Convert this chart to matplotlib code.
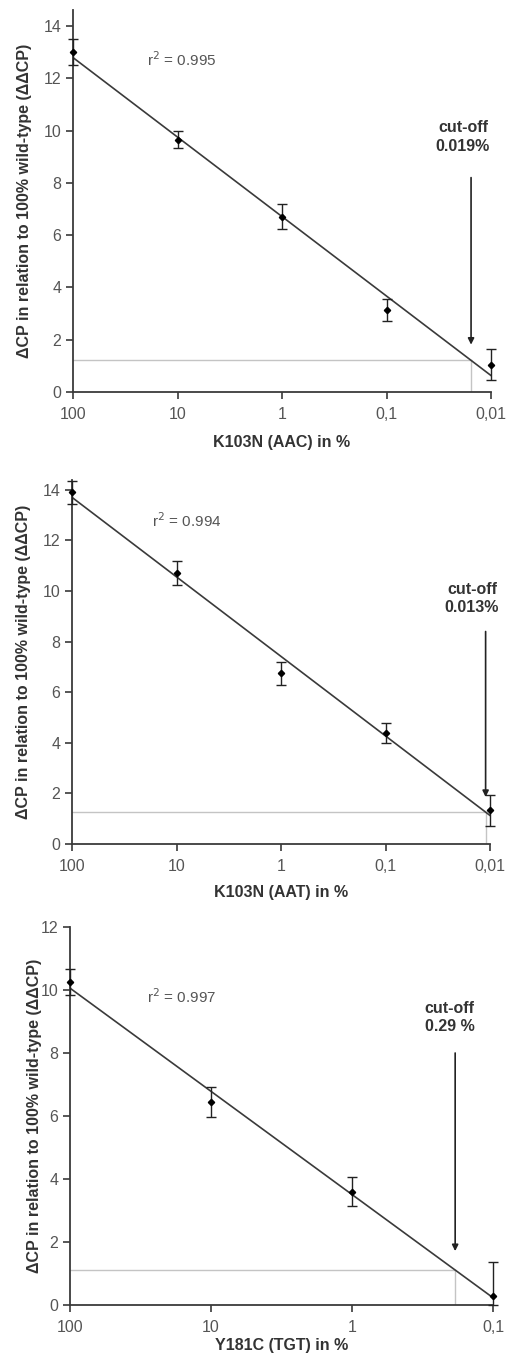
import numpy as np
import matplotlib
matplotlib.use('Agg')
import matplotlib.pyplot as plt

plt.rcParams['font.family'] = ['Liberation Sans', 'DejaVu Sans']

# ---- data ----
conc_k103n = [100, 10, 1, 0.1, 0.01]
conc_y181c = [100, 10, 1, 0.1]

ddcp_aac = [13.0, 9.65, 6.7, 3.15, 1.05]
err_aac = [0.5, 0.32, 0.48, 0.42, 0.6]

ddcp_aat = [13.9, 10.7, 6.75, 4.4, 1.33]
err_aat = [0.46, 0.47, 0.46, 0.4, 0.62]

ddcp_tgt = [10.25, 6.45, 3.6, 0.28]
err_tgt = [0.42, 0.47, 0.45, 1.08]

thresh_aac = 1.21
thresh_aat = 1.26
thresh_tgt = 1.11

r2_labels = ['r$^2$ = 0.995', 'r$^2$ = 0.994', 'r$^2$ = 0.997']
cutoff_labels = ['cut-off\n0.019%', 'cut-off\n0.013%', 'cut-off\n0.29 %']
xlabels = ['K103N (AAC) in %', 'K103N (AAT) in %', 'Y181C (TGT) in %']
tick_text_k103n = ['100', '10', '1', '0,1', '0,01']
tick_text_y181c = ['100', '10', '1', '0,1']
ylabel = '\u0394CP in relation to 100% wild-type (\u0394\u0394CP)'

W, H = 507, 1358
DARK = '#3a3a3a'
GRAY = '#555555'
FS = 11.5


def panel(fig, rect, conc, vals, errs, thresh, ticktext, xlab, r2, cut,
			ymax, ytop, r2pos, cutpos, ylab_x, xpad):
	ax = fig.add_axes(rect)
	x = np.array(conc, dtype=float)
	y = np.array(vals)
	e = np.array(errs)

	# linear fit on log10 of concentration
	lx = np.log10(x)
	slope, icpt = np.polyfit(lx, y, 1)
	xfit = np.array([x.max(), x.min()])
	ax.plot(xfit, slope * np.log10(xfit) + icpt, color=DARK, lw=1.2, zorder=2)

	# cut-off where fit meets the threshold
	xcut = 10 ** ((thresh - icpt) / slope)
	ax.plot([x.max(), xcut], [thresh, thresh], color='#c4c4c4', lw=1.0, zorder=1)
	ax.plot([xcut, xcut], [0, thresh], color='#c4c4c4', lw=1.0, zorder=1)

	# error bars truncated at zero
	lower = np.minimum(e, y)
	ax.errorbar(x, y, yerr=[lower, e], fmt='D', ms=3.2, color='black',
				ecolor='#222222', elinewidth=1.0, capsize=3.5, capthick=1.0,
				clip_on=False, zorder=3)

	ax.annotate('', xy=(xcut, thresh + 0.6), xytext=(xcut, ytop),
				arrowprops=dict(arrowstyle='-|>', color='#222222', lw=1.2,
								mutation_scale=9, shrinkA=0, shrinkB=0))
	ax.text(cutpos[0], cutpos[1], cut, transform=ax.transAxes, ha='center',
			va='center', fontsize=FS, fontweight='bold', color='#333333',
			linespacing=1.3)
	ax.text(r2pos[0], r2pos[1], r2, transform=ax.transAxes, ha='left',
			va='center', fontsize=11, color='#555555')

	ax.set_xscale('log')
	ax.set_xlim(x.max(), x.min())
	ax.set_ylim(0, ymax)
	ax.set_xticks(x)
	ax.set_xticklabels(ticktext)
	ax.minorticks_off()
	ax.set_yticks(np.arange(0, int(ymax) + 1, 2))

	for s in ['top', 'right']:
		ax.spines[s].set_visible(False)
	for s in ['left', 'bottom']:
		ax.spines[s].set_color(DARK)
		ax.spines[s].set_linewidth(1.3)
	ax.tick_params(axis='both', colors=DARK, labelcolor=GRAY, labelsize=FS,
				   width=1.2, length=5, direction='out')
	ax.tick_params(axis='x', pad=6)

	ax.set_xlabel(xlab, fontsize=FS, fontweight='bold', color='#333333',
				  labelpad=xpad)
	ax.set_ylabel(ylabel, fontsize=FS, fontweight='bold', color='#333333')
	ax.yaxis.set_label_coords(ylab_x, 0.5)
	return ax


fig = plt.figure(figsize=(W / 100, H / 100), dpi=100)

panel(fig, [73 / W, 1 - 392 / H, 418 / W, 382 / H], conc_k103n, ddcp_aac,
	  err_aac, thresh_aac, tick_text_k103n, xlabels[0], r2_labels[0],
	  cutoff_labels[0], 14.61, 8.2, (0.177, 0.869), (0.933, 0.668), -0.097, 9)

panel(fig, [72 / W, 1 - 844 / H, 418 / W, 364 / H], conc_k103n, ddcp_aat,
	  err_aat, thresh_aat, tick_text_k103n, xlabels[1], r2_labels[1],
	  cutoff_labels[1], 14.39, 8.4, (0.191, 0.889), (0.957, 0.674), -0.097, 8)

panel(fig, [70 / W, 1 - 1305 / H, 423 / W, 378 / H], conc_y181c, ddcp_tgt,
	  err_tgt, thresh_tgt, tick_text_y181c, xlabels[2], r2_labels[2],
	  cutoff_labels[2], 12, 8.0, (0.182, 0.815), (0.898, 0.761), -0.066, 2)

fig.savefig('out.png', dpi=100, facecolor='white')
